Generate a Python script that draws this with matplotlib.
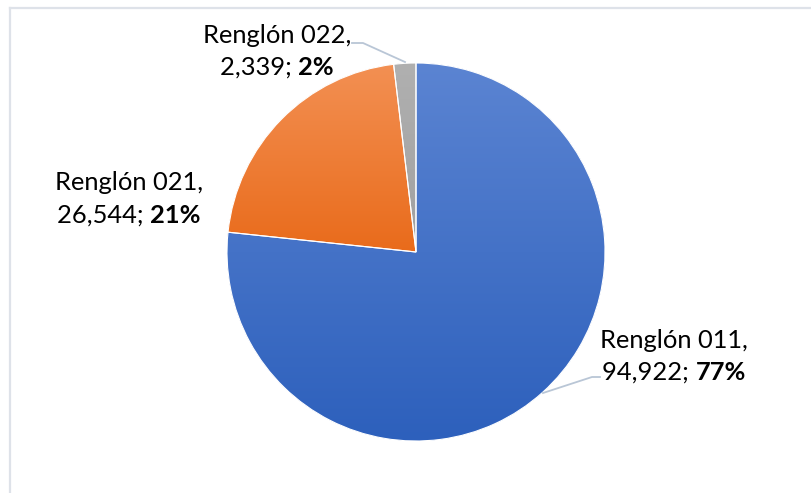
import matplotlib
matplotlib.use("Agg")
import matplotlib.pyplot as plt
import numpy as np
from matplotlib.colors import LinearSegmentedColormap
from matplotlib.patches import Wedge

# ---- data ----
categories = ["Renglón 011", "Renglón 021", "Renglón 022"]
values = [94922, 26544, 2339]
value_labels = ["94,922", "26,544", "2,339"]
pct_labels = ["77%", "21%", "2%"]

top_colors = ["#5B84D2", "#F39053", "#B0B0B0"]
bot_colors = ["#2D60BC", "#E96B1B", "#A0A0A0"]

W, H = 812, 493
fig = plt.figure(figsize=(W / 100, H / 100), dpi=100)
ax = fig.add_axes([0, 0, 1, 1])

def Y(y):
    return H - y

FONT = "Lato"

cx, cy, R = 416, 252, 189
wedges, _ = ax.pie(values, colors=top_colors, startangle=90, counterclock=False,
                   center=(cx, Y(cy)), radius=R, wedgeprops=dict(linewidth=0))
ax.set_xlim(0, W)
ax.set_ylim(0, H)
ax.set_aspect("equal")
ax.axis("off")

grad = np.linspace(0, 1, 256).reshape(-1, 1)
for w, tc, bc in zip(wedges, top_colors, bot_colors):
    ext = w.get_path().transformed(w.get_patch_transform()).get_extents()
    cmap = LinearSegmentedColormap.from_list("g", [bc, tc])
    im = ax.imshow(grad, cmap=cmap, origin="lower", aspect="auto",
                   extent=(ext.x0, ext.x1, ext.y0, ext.y1), zorder=2,
                   interpolation="bilinear")
    im.set_clip_path(w)
    ax.add_patch(Wedge(w.center, w.r, w.theta1, w.theta2,
                       facecolor="none", edgecolor="white",
                       linewidth=0.8, zorder=3))
ax.set_xlim(0, W)
ax.set_ylim(0, H)

# frame
ax.plot([10, 10], [Y(8), -5], color="#DEE2E9", lw=1.6, zorder=1, clip_on=False)
ax.plot([10, W + 5], [Y(8), Y(8)], color="#DEE2E9", lw=1.6, zorder=1, clip_on=False)

# leader lines
lc = "#B9C6D6"
ax.plot([352, 363, 405], [Y(43), Y(43), Y(62)], color=lc, lw=1.3, zorder=4)
ax.plot([543, 592, 600], [Y(393), Y(377), Y(377)], color=lc, lw=1.3, zorder=4)

# font size so that the first line is ~148 px wide
r = fig.canvas.get_renderer()
probe = ax.text(0, 0, "Renglón 011,", fontsize=10, family=FONT)
fs = 10 * 148 / probe.get_window_extent(r).width
probe.remove()

label_pos = [  # center x, baseline line1, baseline line2
    (674, 348, 380),
    (129, 190, 223),
    (277, 43, 75),
]

for cat, vl, pl, (lx, b1, b2) in zip(categories, value_labels, pct_labels, label_pos):
    ax.text(lx, Y(b1), cat + ",", ha="center", va="baseline", fontsize=fs,
            family=FONT, color="black", zorder=5)
    t1 = ax.text(0, Y(b2), vl + "; ", ha="left", va="baseline", fontsize=fs,
                 family=FONT, color="black", zorder=5)
    t2 = ax.text(0, Y(b2), pl, ha="left", va="baseline", fontsize=fs,
                 family=FONT, fontweight="bold", color="black", zorder=5)
    w1 = t1.get_window_extent(r).width
    w2 = t2.get_window_extent(r).width
    x0 = lx - (w1 + w2) / 2
    t1.set_x(x0)
    t2.set_x(x0 + w1)

fig.savefig("out.png", dpi=100)
